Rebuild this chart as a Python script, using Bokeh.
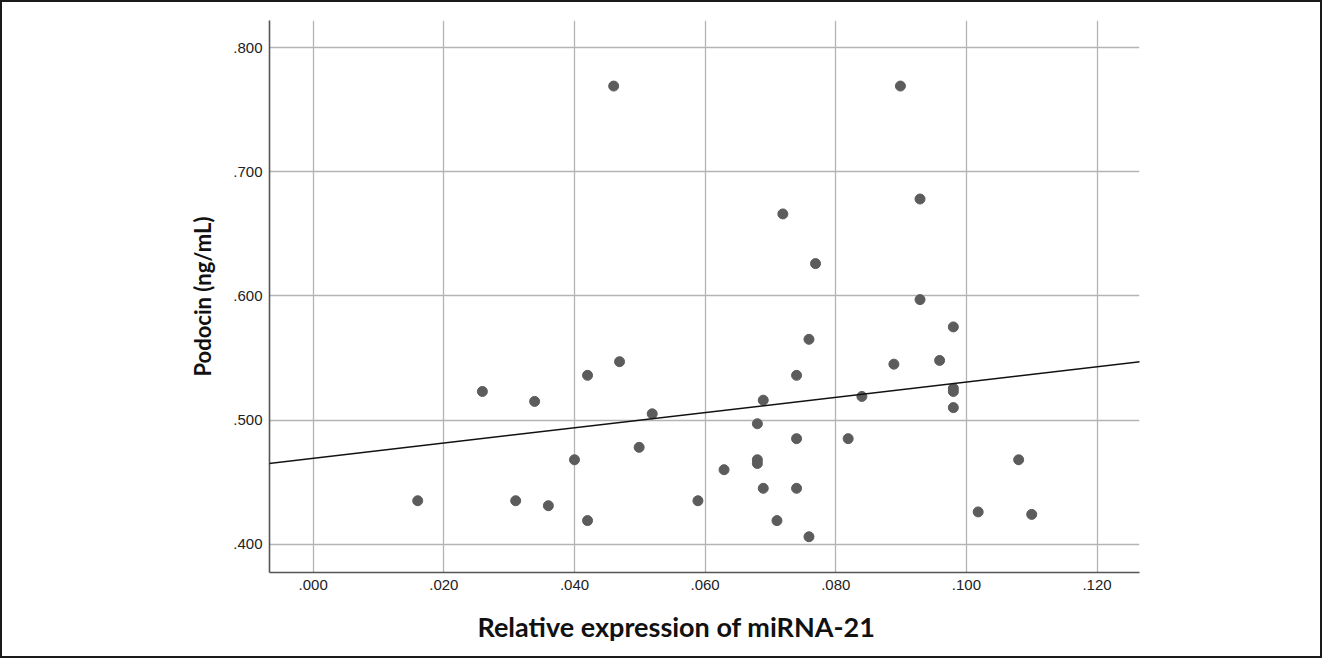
from bokeh.plotting import figure
from bokeh.models import FixedTicker, Slope, Title
from bokeh.embed import file_html
from bokeh.resources import INLINE

# Data
mirna21 = [0.0160, 0.0259, 0.0339, 0.0310, 0.0360, 0.0400, 0.0420, 0.0420,
           0.0460, 0.0469, 0.0499, 0.0519, 0.0589, 0.0629, 0.0680, 0.0680,
           0.0680, 0.0689, 0.0689, 0.0710, 0.0719, 0.0740, 0.0740, 0.0740,
           0.0759, 0.0759, 0.0769, 0.0819, 0.0840, 0.0889, 0.0899, 0.0929,
           0.0929, 0.0959, 0.0980, 0.0980, 0.0980, 0.0980, 0.1018, 0.1080,
           0.1100]
podocin = [0.435, 0.523, 0.515, 0.435, 0.431, 0.468, 0.536, 0.419,
           0.769, 0.547, 0.478, 0.505, 0.435, 0.460, 0.497, 0.468,
           0.465, 0.516, 0.445, 0.419, 0.666, 0.536, 0.485, 0.445,
           0.565, 0.406, 0.626, 0.485, 0.519, 0.545, 0.769, 0.678,
           0.597, 0.548, 0.575, 0.5255, 0.523, 0.510, 0.426, 0.468,
           0.424]

fit_intercept = 0.4692
fit_slope = 0.6137

x_ticks = [0.0, 0.02, 0.04, 0.06, 0.08, 0.10, 0.12]
x_tick_labels = [".000", ".020", ".040", ".060", ".080", ".100", ".120"]
y_ticks = [0.4, 0.5, 0.6, 0.7, 0.8]
y_tick_labels = [".400", ".500", ".600", ".700", ".800"]

x_label = "Relative expression of miRNA-21"
y_label = "Podocin (ng/mL)"

p = figure(width=1322, height=658, output_backend="svg", toolbar_location=None,
           x_range=(-0.00669, 0.1265), y_range=(0.3772, 0.8218),
           min_border_left=267, min_border_right=185,
           min_border_top=18, min_border_bottom=88)
p.styles = {"border": "2px solid #1a1a1a"}
p.outline_line_color = None
p.background_fill_color = "white"
p.border_fill_color = "white"

p.xaxis.ticker = FixedTicker(ticks=x_ticks)
p.yaxis.ticker = FixedTicker(ticks=y_ticks)
p.xaxis.major_label_overrides = dict(zip(x_ticks, x_tick_labels))
p.yaxis.major_label_overrides = dict(zip(y_ticks, y_tick_labels))

for ax in (p.xaxis, p.yaxis):
    ax.axis_line_color = "#555555"
    ax.axis_line_width = 1.6
    ax.major_tick_line_color = None
    ax.minor_tick_line_color = None
    ax.major_tick_out = 0
    ax.major_tick_in = 0
    ax.major_label_text_font = "Liberation Sans"
    ax.major_label_text_font_size = "15px"
    ax.major_label_text_color = "#222222"
    ax.major_label_standoff = 7

p.yaxis.axis_label = y_label
p.yaxis.axis_label_text_font = "Lato"
p.yaxis.axis_label_text_font_style = "bold"
p.yaxis.axis_label_text_font_size = "22px"
p.yaxis.axis_label_text_color = "#111111"
p.yaxis.axis_label_standoff = 14

p.xgrid.ticker = FixedTicker(ticks=x_ticks)
p.ygrid.ticker = FixedTicker(ticks=y_ticks)
p.grid.grid_line_color = "#b4b4b4"
p.grid.grid_line_width = 1.3

p.scatter(mirna21, podocin, size=10, fill_color="#5c5c5c", line_color="#5c5c5c")

p.add_layout(Slope(gradient=fit_slope, y_intercept=fit_intercept,
                   line_color="#111111", line_width=1.5))

p.add_layout(Title(text=x_label, align="left", offset=208, standoff=30,
                   text_font="Lato", text_font_style="bold",
                   text_font_size="27px", text_color="#111111"), "below")

open("out.html", "w").write(file_html(p, INLINE))
